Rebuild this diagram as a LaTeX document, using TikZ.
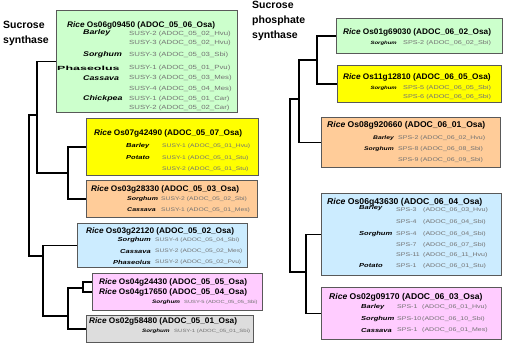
\documentclass[tikz,border=0pt]{standalone}
\usepackage{fontspec}
\setmainfont{Liberation Sans}
\newfontfamily\titlefont[FakeStretch=1.02]{Liberation Sans}
\newfontfamily\stretchfont[FakeStretch=1.3]{Liberation Sans}
\usepackage{graphicx}
\usepackage{xcolor}
\usetikzlibrary{
  positioning,
  calc
}

\definecolor{boxgreen}{HTML}{CCFFCC}
\definecolor{boxyellow}{HTML}{FFFF00}
\definecolor{boxorange}{HTML}{FFCC99}
\definecolor{boxblue}{HTML}{CCECFF}
\definecolor{boxpink}{HTML}{FFCCFF}
\definecolor{boxgray}{HTML}{DDDDDD}

\tikzset{
  clade/.style={draw=black!65, line width=0.7pt, anchor=north west, inner sep=0pt},
  branch/.style={line width=1.6pt},
  ttl/.style={anchor=west, inner sep=0pt, font=\titlefont\bfseries\fontsize{#1}{#1}\selectfont},
  ttl/.default=8.1,
  sp/.style={anchor=west, inner sep=0pt, font=\stretchfont\bfseries\itshape\fontsize{#1}{#1}\selectfont},
  gene/.style={anchor=west, inner sep=0pt, text=black!55, font=\stretchfont\fontsize{#1}{#1}\selectfont},
  heading/.style={anchor=north west, inner sep=0pt, align=left, font=\bfseries\fontsize{10.5}{15}\selectfont}
}

\begin{document}
\begin{tikzpicture}[x=1pt, y=-1pt]
      \useasboundingbox (0,0) rectangle (528,349);

      % Headings
      \node[heading] (ssyn) at (3,21) {Sucrose\\synthase};
      \node[heading] (spsyn) at (252,1) {Sucrose\\phosphate\\synthase};

      % Sucrose synthase clades
      \node[clade, fill=boxgreen, minimum width=181pt, minimum height=102pt] (lg) at (56,10) {};
      \node[ttl] (lg0) at (67,25) {\textit{Rice} Os06g09450 (ADOC\_05\_06\_Osa)};
      \foreach \y/\s [count=\i] in {33/Barley, 55/Sorghum, 78/Cassava, 99/Chickpea}
        \node[sp=6.8] (lgs\i) at (83,\y) {\s};
      \node[sp=6] (lgs5) at (57,68) {\upshape\scalebox{1.6}[1]{Phaseolus}};
      \foreach \y/\g [count=\i] in {34/SUSY-2 (ADOC\_05\_02\_Hvu), 43/SUSY-3 (ADOC\_05\_02\_Hvu),
          55/SUSY-3 (ADOC\_05\_03\_Sbi), 68/SUSY-1 (ADOC\_05\_01\_Pvu), 78/SUSY-3 (ADOC\_05\_03\_Mes),
          89/SUSY-4 (ADOC\_05\_04\_Mes), 99/SUSY-1 (ADOC\_05\_01\_Car), 108/SUSY-2 (ADOC\_05\_02\_Car)}
        \node[gene=6] (lgg\i) at (129,\y) {\g};

      \node[clade, fill=boxyellow, minimum width=172pt, minimum height=57pt] (ly) at (86,118) {};
      \node[ttl] (ly0) at (94,133) {\textit{Rice} Os07g42490 (ADOC\_05\_07\_Osa)};
      \foreach \y/\s [count=\i] in {146/Barley, 158/Potato}
        \node[sp=5.8] (lys\i) at (126,\y) {\s};
      \foreach \y/\g [count=\i] in {146/SUSY-1 (ADOC\_05\_01\_Hvu), 158/SUSY-1 (ADOC\_05\_01\_Stu),
          169/SUSY-2 (ADOC\_05\_01\_Stu)}
        \node[gene=5.2] (lyg\i) at (162,\y) {\g};

      \node[clade, fill=boxorange, minimum width=171pt, minimum height=37pt] (lo) at (86,180) {};
      \node[ttl] (lo0) at (91,189) {\textit{Rice} Os03g28330 (ADOC\_05\_03\_Osa)};
      \foreach \y/\s [count=\i] in {199/Sorghum, 210/Cassava}
        \node[sp=5.4] (los\i) at (127,\y) {\s};
      \foreach \y/\g [count=\i] in {199/SUSY-2 (ADOC\_05\_02\_Sbi), 210/SUSY-1 (ADOC\_05\_01\_Mes)}
        \node[gene=5.2] (log\i) at (161,\y) {\g};

      \node[clade, fill=boxblue, minimum width=170pt, minimum height=44pt] (lb) at (77,223) {};
      \node[ttl] (lb0) at (86,231) {\textit{Rice} Os03g22120 (ADOC\_05\_02\_Osa)};
      \foreach \y/\s [count=\i] in {240/Sorghum, 251/Cassava, 262/Phaseolus}
        \node[sp=5.8, anchor=east] (lbs\i) at (151,\y) {\s};
      \foreach \y/\g [count=\i] in {240/SUSY-4 (ADOC\_05\_04\_Sbi), 251/SUSY-2 (ADOC\_05\_02\_Mes),
          262/SUSY-2 (ADOC\_05\_02\_Pvu)}
        \node[gene=5.1] (lbg\i) at (155,\y) {\g};

      \node[clade, fill=boxpink, minimum width=170pt, minimum height=37pt] (lp) at (92,273) {};
      \node[ttl] (lp1) at (99,282) {\textit{Rice} Os04g24430 (ADOC\_05\_05\_Osa)};
      \node[ttl] (lp2) at (99,292) {\textit{Rice} Os04g17650 (ADOC\_05\_04\_Osa)};
      \node[sp=4.9] (lps1) at (152,302) {Sorghum};
      \node[gene=4.45] (lpg1) at (184,302) {SUSY-5 (ADOC\_05\_05\_Sbi)};

      \node[clade, fill=boxgray, minimum width=167pt, minimum height=27pt] (lgy) at (86,315) {};
      \node[ttl] (lgy0) at (89,321) {\textit{Rice} Os02g58480 (ADOC\_05\_01\_Osa)};
      \node[sp=4.8] (lgys1) at (142,331) {Sorghum};
      \node[gene=4.6] (lgyg1) at (174,331) {SUSY-1 (ADOC\_05\_01\_Sbi)};

      % Sucrose phosphate synthase clades
      \node[clade, fill=boxgreen, minimum width=166pt, minimum height=35pt] (rg) at (336,18) {};
      \node[ttl] (rg0) at (343,32) {\textit{Rice} Os01g69030 (ADOC\_06\_02\_Osa)};
      \node[sp=4.6, anchor=east] (rgs1) at (397,43) {Sorghum};
      \node[gene=5.6] (rgg1) at (403,43) {SPS-2 (ADOC\_06\_02\_Sbi)};

      \node[clade, fill=boxyellow, minimum width=164pt, minimum height=37pt] (ry) at (337,65) {};
      \node[ttl] (ry0) at (343,77) {\textit{Rice} Os11g12810 (ADOC\_06\_05\_Osa)};
      \node[sp=4.6, anchor=east] (rys1) at (397,88) {Sorghum};
      \foreach \y/\g [count=\i] in {88/SPS-5 (ADOC\_06\_05\_Sbi), 97/SPS-6 (ADOC\_06\_06\_Sbi)}
        \node[gene=5.6] (ryg\i) at (403,\y) {\g};

      \node[clade, fill=boxorange, minimum width=179pt, minimum height=50pt] (ro) at (321,117) {};
      \node[ttl=8.4] (ro0) at (327,125) {\textit{Rice} Os08g920660 (ADOC\_06\_01\_Osa)};
      \foreach \y/\s [count=\i] in {138/Barley, 149/Sorghum}
        \node[sp=5.2, anchor=east] (ros\i) at (394,\y) {\s};
      \foreach \y/\g [count=\i] in {138/SPS-2 (ADOC\_06\_02\_Hvu), 149/SPS-8 (ADOC\_06\_08\_Sbi),
          160/SPS-9 (ADOC\_06\_09\_Sbi)}
        \node[gene=5.4] (rog\i) at (398,\y) {\g};

      \node[clade, fill=boxblue, minimum width=180pt, minimum height=82pt] (rb) at (321,193) {};
      \node[ttl=8.5] (rb0) at (327,202) {\textit{Rice} Os06g43630 (ADOC\_06\_04\_Osa)};
      \foreach \y/\s [count=\i] in {208/Barley, 234/Sorghum, 266/Potato}
        \node[sp=5.8] (rbs\i) at (359,\y) {\s};
      \foreach \y/\n/\g [count=\i] in {210/SPS-3/ADOC\_06\_03\_Hvu, 222/SPS-4/ADOC\_06\_04\_Sbi,
          234/SPS-4/ADOC\_06\_04\_Sbi, 245/SPS-7/ADOC\_06\_07\_Sbi, 255/SPS-11/ADOC\_06\_11\_Hvu,
          266/SPS-1/ADOC\_06\_01\_Stu}
        \node[gene=5.4] (rbg\i) at (396,\y) {\makebox[27pt][l]{\n}(\g)};

      \node[clade, fill=boxpink, minimum width=180pt, minimum height=52pt] (rp) at (321,287) {};
      \node[ttl=8.4] (rp0) at (329,297) {\textit{Rice} Os02g09170 (ADOC\_06\_03\_Osa)};
      \foreach \y/\s [count=\i] in {307/Barley, 319/Sorghum, 330/Cassava}
        \node[sp=5.8] (rps\i) at (361,\y) {\s};
      \foreach \y/\n/\g [count=\i] in {307/SPS-1/ADOC\_06\_01\_Hvu, 319/SPS-10/ADOC\_06\_10\_Sbi,
          330/SPS-1/ADOC\_06\_01\_Mes}
        \node[gene=5.4] (rpg\i) at (397,\y) {\makebox[25pt][l]{\n}(\g)};

      % Tree, sucrose synthase
      \coordinate (a1) at (37,115);
      \coordinate (a2) at (68,173);
      \coordinate (r1) at (29,190);
      \coordinate (b1) at (43,256);
      \coordinate (b2) at (68,316);
      \coordinate (c1) at (83,288);
      \draw[branch] (lg.west) -| (a1) |- (a2);
      \draw[branch] (ly.west) -| (a2) |- (lo.west);
      \draw[branch] (a1) -| (r1) |- (b1);
      \draw[branch] (lb.west) -| (b1) |- (b2);
      \draw[branch] (lp.west |- lp1) -| (c1) |- (lp.west |- lp2);
      \draw[branch] (c1) -| (b2) |- (lgy.west);

      % Tree, sucrose phosphate synthase
      \coordinate (d1) at (317,60);
      \coordinate (d2) at (299,99);
      \coordinate (r2) at (290,180);
      \coordinate (d3) at (306,272);
      \draw[branch] (rg.west) -| (d1) |- (ry.west);
      \draw[branch] (d1) -| (d2) |- (ro.west);
      \draw[branch] (d2) -| (r2) |- (d3);
      \draw[branch] (rb.west) -| (d3) |- (rp.west);
\end{tikzpicture}
\end{document}
